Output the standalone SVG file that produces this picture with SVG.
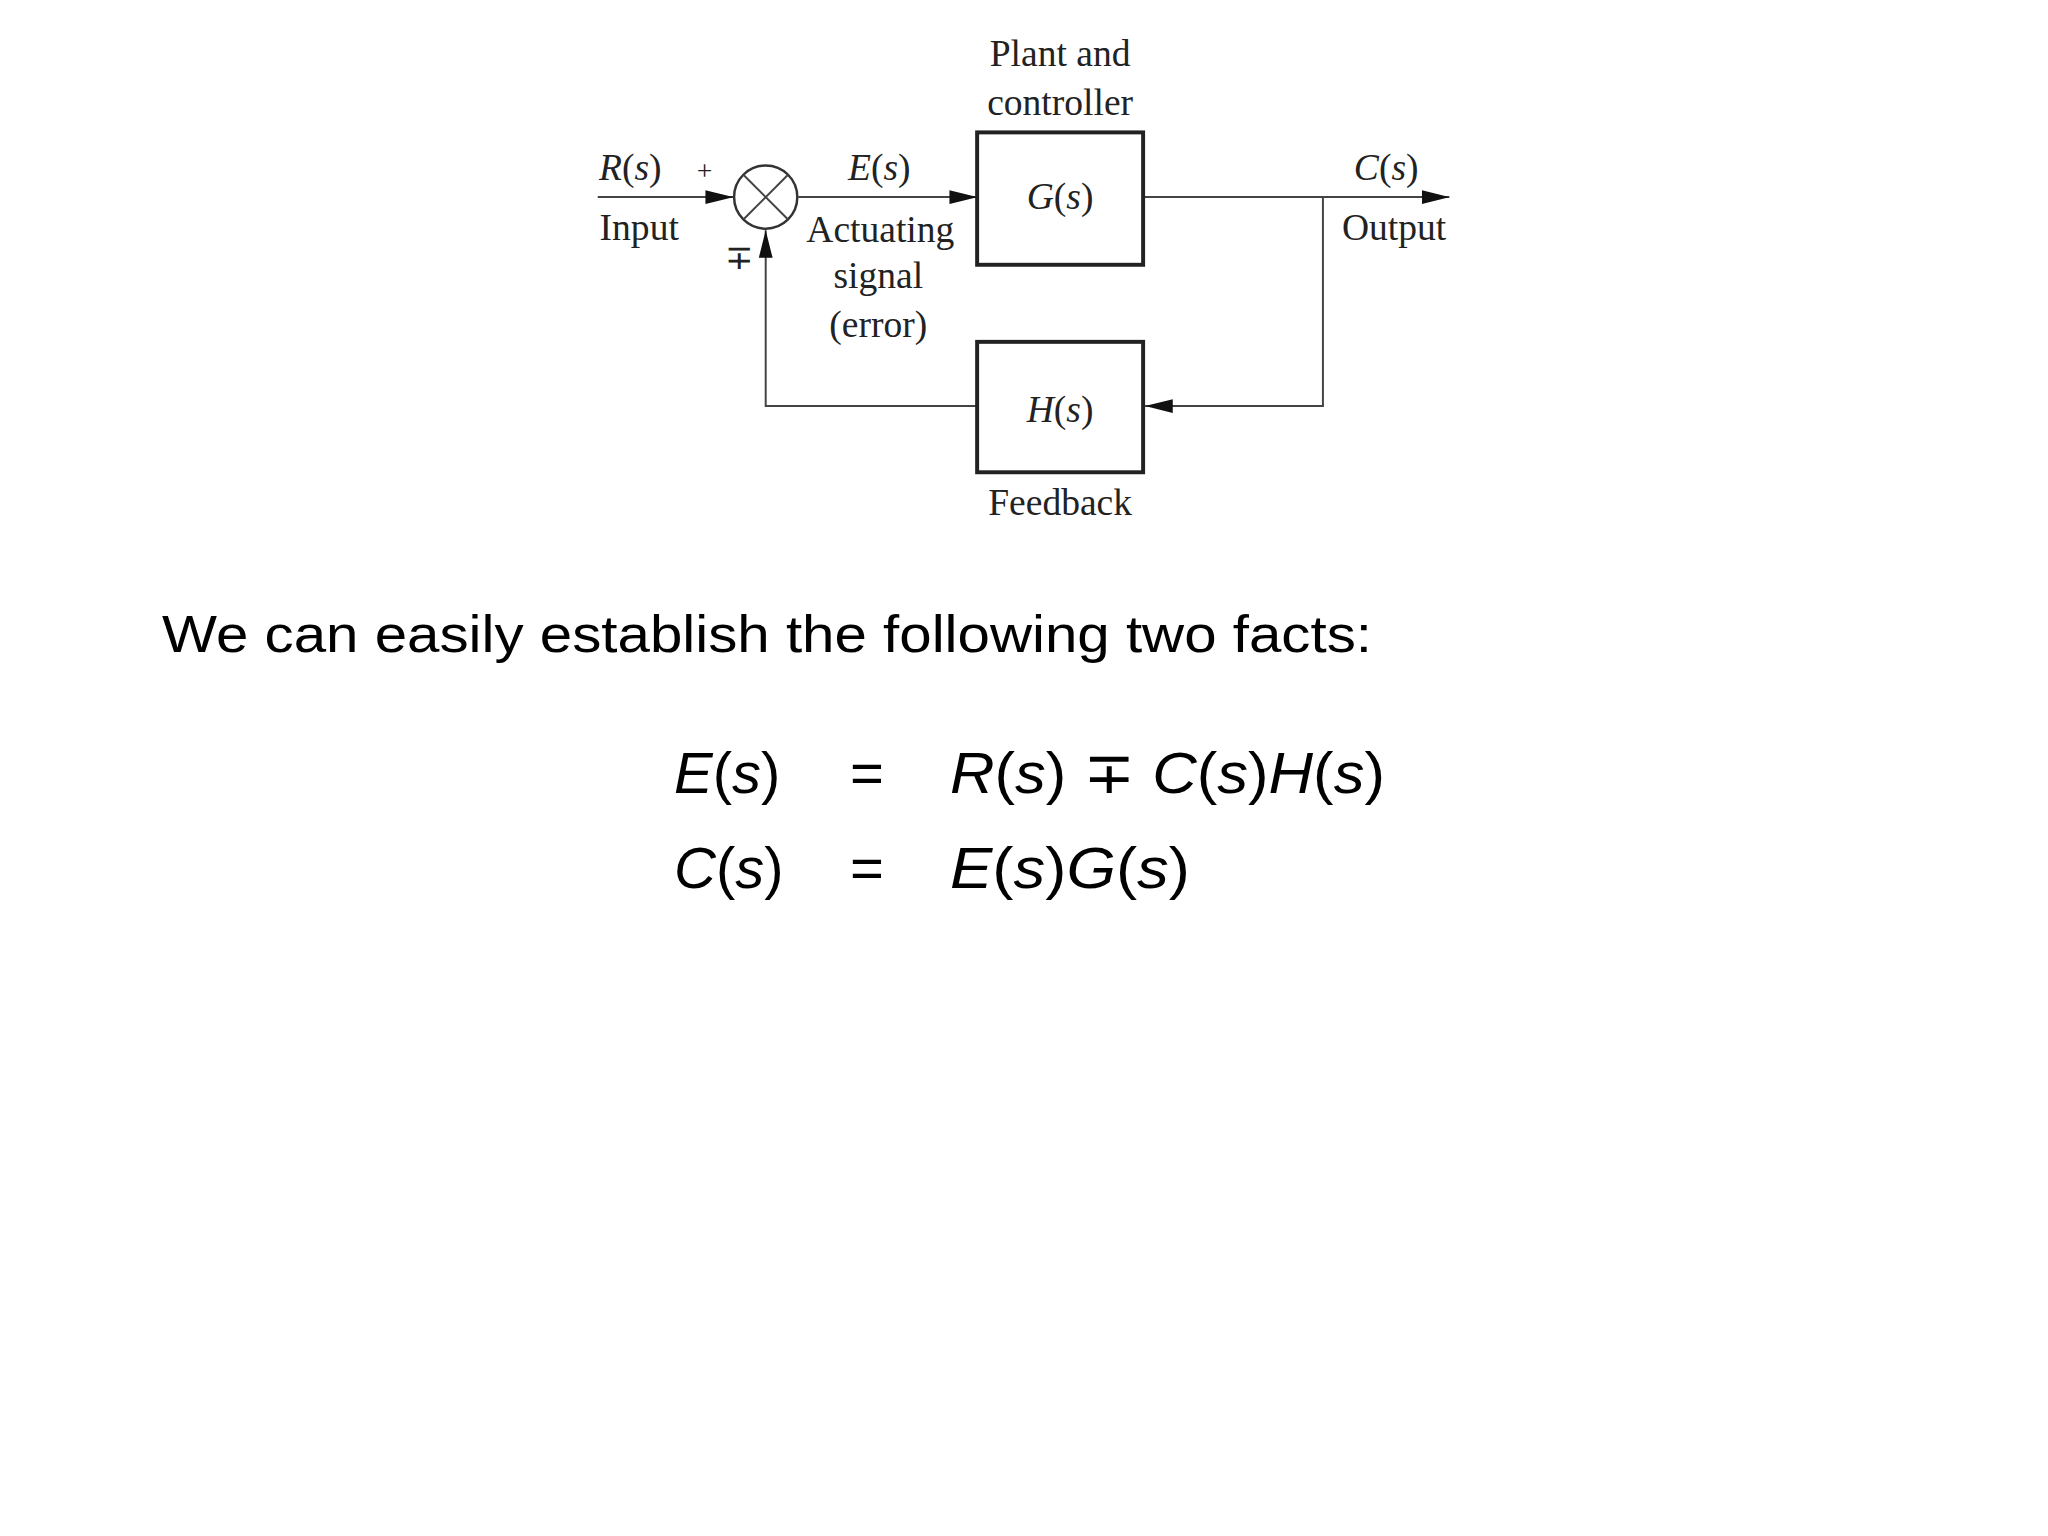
<svg xmlns="http://www.w3.org/2000/svg" width="2048" height="1536" viewBox="0 0 2048 1536">
<style>
.l{font-family:"Liberation Serif",serif;font-size:38px;fill:#222;text-anchor:middle}
.i{font-style:italic}
.w{stroke:#444;stroke-width:2;fill:none}
.b{stroke:#222;stroke-width:4;fill:#fff}
.m{font-family:"Liberation Sans","DejaVu Sans",sans-serif;font-size:58px;fill:#000}
</style>
<defs>
<marker id="A" markerWidth="28" markerHeight="14" refX="28" refY="7" orient="auto" markerUnits="userSpaceOnUse" viewBox="0 0 28 14">
<path d="M0,0 L28,7 L0,14 z" fill="#111"/>
</marker>
</defs>
<g transform="scale(0.988)">
<g id="connectors">
<line class="w" x1="605" y1="199.5" x2="742" y2="199.5" marker-end="url(#A)"/>
<line class="w" x1="808" y1="199.5" x2="989" y2="199.5" marker-end="url(#A)"/>
<line class="w" x1="1157" y1="199.5" x2="1467" y2="199.5" marker-end="url(#A)"/>
<polyline class="w" points="1339,199.5 1339,411 1159,411" marker-end="url(#A)"/>
<polyline class="w" points="989,411 775,411 775,233" marker-end="url(#A)"/>
</g>
<g id="sum">
<circle cx="775" cy="199.5" r="32" fill="#fff" stroke="#333" stroke-width="2.5"/>
<line class="w" x1="752.4" y1="176.9" x2="797.6" y2="222.1"/>
<line class="w" x1="797.6" y1="176.9" x2="752.4" y2="222.1"/>
<text class="l" x="713" y="182" style="font-size:28px">+</text>
<text class="l" x="748" y="272" style="font-size:34px">∓</text>
</g>
<g id="G">
<rect class="b" x="989" y="134" width="168" height="134"/>
<text class="l" x="1073" y="212"><tspan class="i">G</tspan>(<tspan class="i">s</tspan>)</text>
<text class="l" x="1073" y="67">Plant and</text>
<text class="l" x="1073" y="116">controller</text>
</g>
<g id="H">
<rect class="b" x="989" y="346" width="168" height="132"/>
<text class="l" x="1073" y="427"><tspan class="i">H</tspan>(<tspan class="i">s</tspan>)</text>
<text class="l" x="1073" y="521">Feedback</text>
</g>
<g id="labels">
<text class="l" x="638" y="182"><tspan class="i">R</tspan>(<tspan class="i">s</tspan>)</text>
<text class="l" x="647" y="243">Input</text>
<text class="l" x="890" y="182"><tspan class="i">E</tspan>(<tspan class="i">s</tspan>)</text>
<text class="l" x="891" y="245">Actuating</text>
<text class="l" x="889" y="292">signal</text>
<text class="l" x="889" y="341">(error)</text>
<text class="l" x="1403" y="182"><tspan class="i">C</tspan>(<tspan class="i">s</tspan>)</text>
<text class="l" x="1411" y="243">Output</text>
</g>
</g>
<g id="text">
<text class="m" x="162" y="652" textLength="1210" lengthAdjust="spacingAndGlyphs" style="font-size:52px">We can easily establish the following two facts:</text>
<text class="m" x="674" y="793"><tspan class="i">E</tspan>(<tspan class="i">s</tspan>)</text>
<text class="m" x="850" y="793">=</text>
<text class="m" x="950" y="793" textLength="435" lengthAdjust="spacingAndGlyphs"><tspan class="i">R</tspan>(<tspan class="i">s</tspan>) ∓ <tspan class="i">C</tspan>(<tspan class="i">s</tspan>)<tspan class="i">H</tspan>(<tspan class="i">s</tspan>)</text>
<text class="m" x="674" y="888"><tspan class="i">C</tspan>(<tspan class="i">s</tspan>)</text>
<text class="m" x="850" y="888">=</text>
<text class="m" x="950" y="888" textLength="240" lengthAdjust="spacingAndGlyphs"><tspan class="i">E</tspan>(<tspan class="i">s</tspan>)<tspan class="i">G</tspan>(<tspan class="i">s</tspan>)</text>
</g>
</svg>
